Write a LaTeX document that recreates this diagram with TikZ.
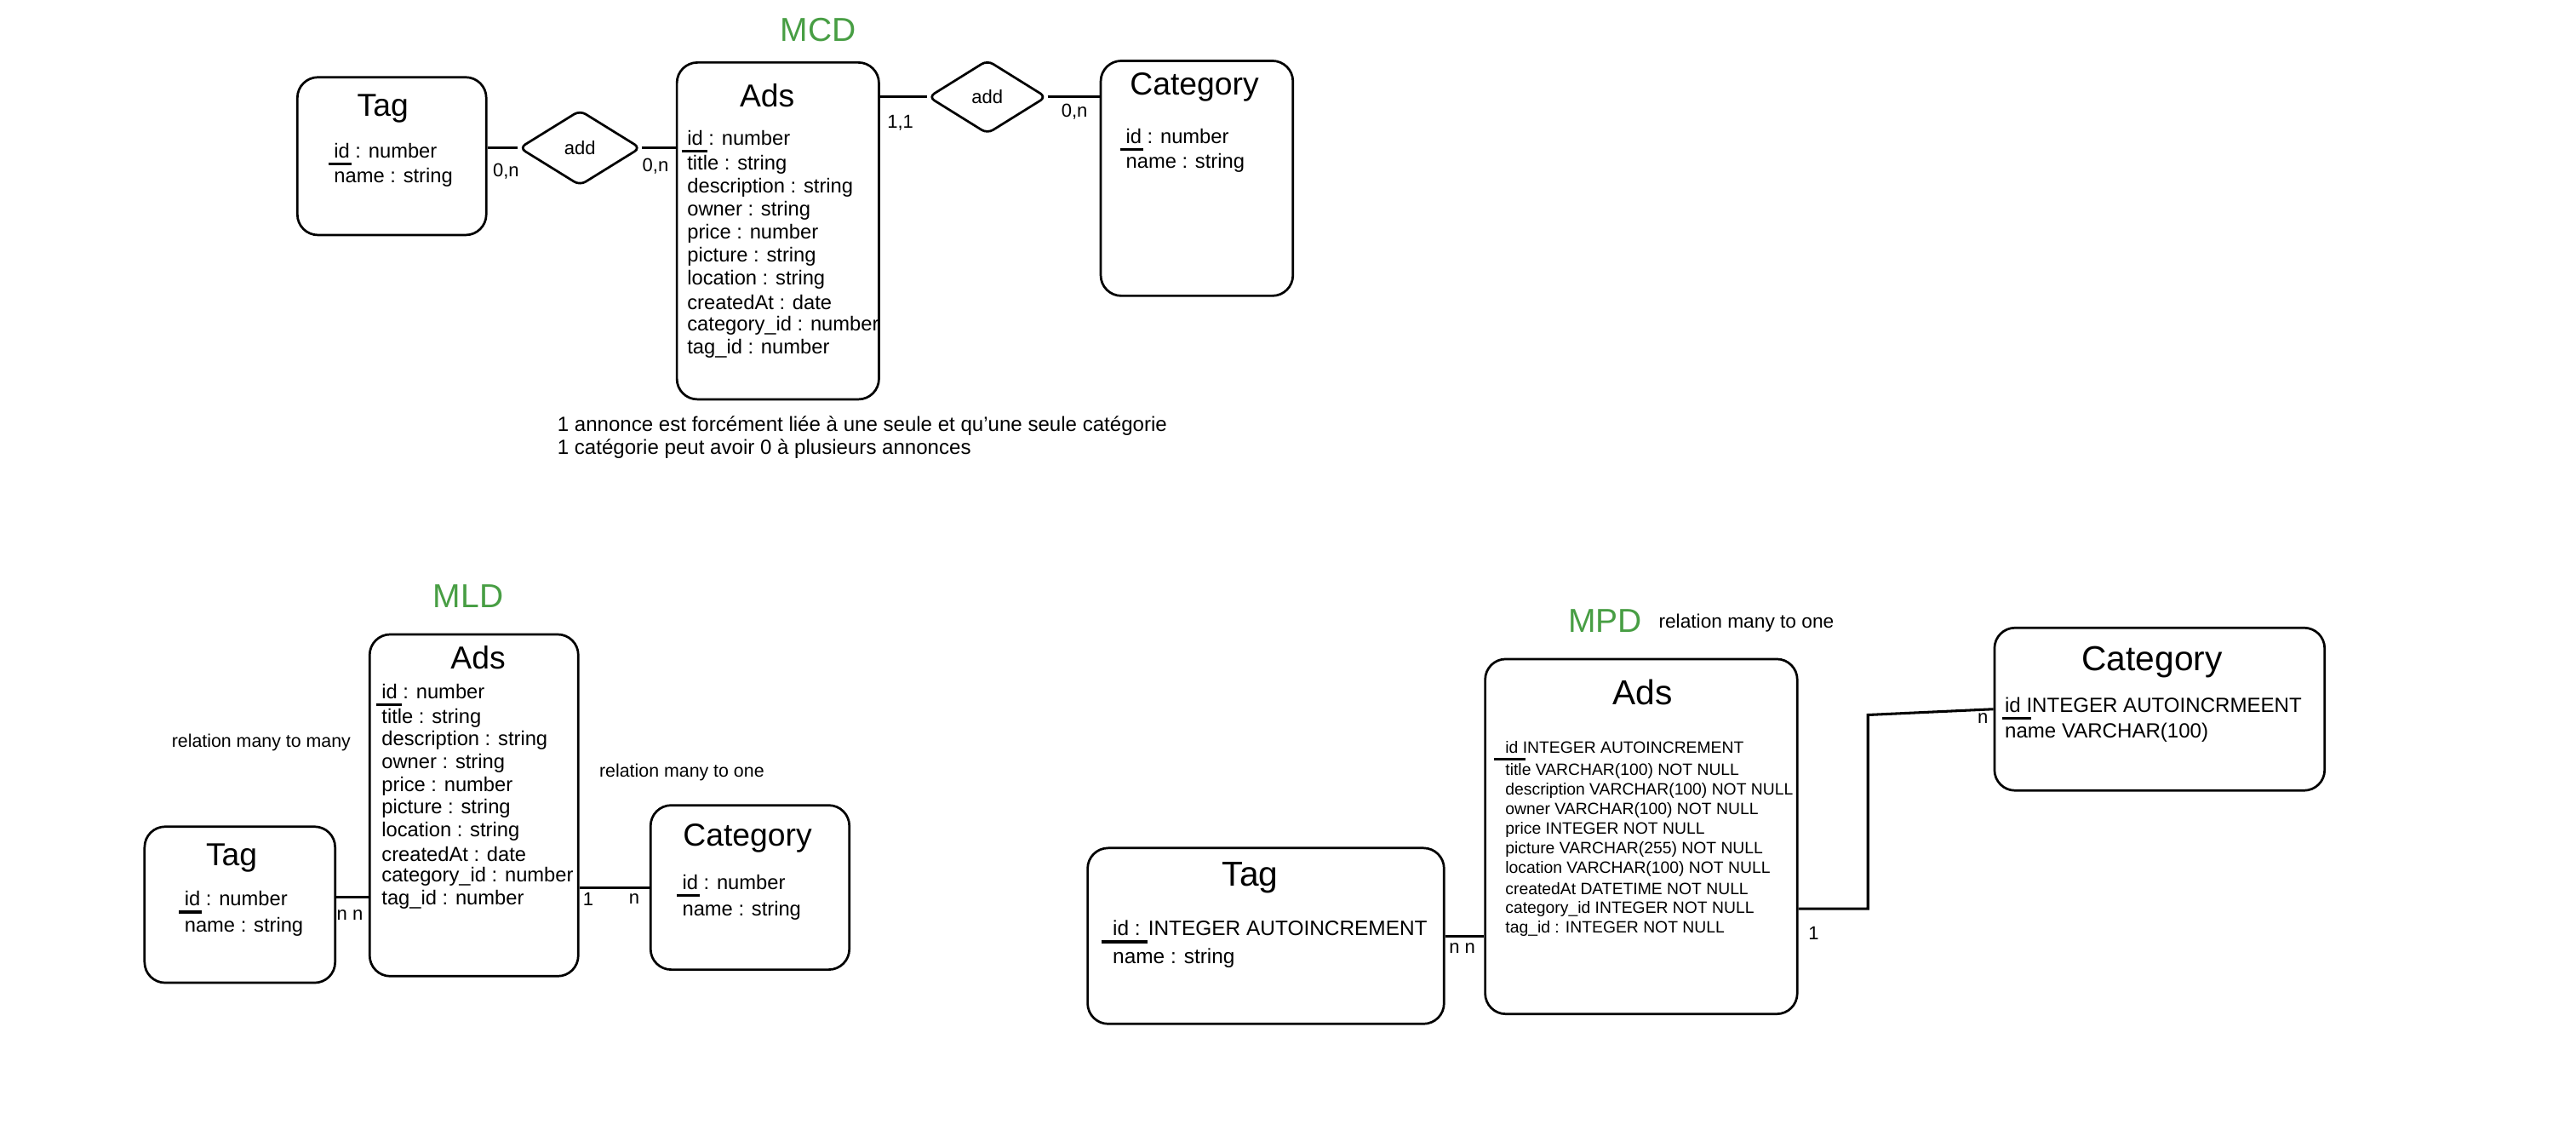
\documentclass[tikz,border=0pt]{standalone}
\usepackage{fontspec}
\setmainfont{Liberation Sans}
\usepackage{tikz}
\usetikzlibrary{shapes.geometric}
\definecolor{modelgreen}{RGB}{72,158,68}
\newcommand{\pkey}[3]{\rlap{\kern#1\rule[-2.6pt]{#2}{1pt}}#3}

\begin{document}
\begin{tikzpicture}[
    x=0.02cm, y=-0.02cm,
    entity/.style={draw, line width=0.8pt, rounded corners=0.25cm},
    relation/.style={draw, diamond, line width=0.8pt, rounded corners=0.08cm, inner sep=0, font=\fontsize{6.5}{7}\selectfont},
    link/.style={line width=0.9pt},
    boxtitle/.style={inner sep=0, font=\fontsize{11}{13}\selectfont},
    bigtitle/.style={inner sep=0, font=\fontsize{12}{14}\selectfont},
    model/.style={inner sep=0, font=\fontsize{11.5}{13}\selectfont, text=modelgreen},
    attr/.style={anchor=west, inner sep=0, font=\fontsize{7}{8}\selectfont},
    sqlattr/.style={anchor=west, inner sep=0, font=\fontsize{5.7}{7}\selectfont},
    card/.style={inner sep=0, font=\fontsize{6.5}{7}\selectfont},
    note/.style={inner sep=0, font=\fontsize{6.3}{7}\selectfont},
    handnote/.style={anchor=west, inner sep=0, font=\fontsize{7.1}{8}\selectfont},
]
    \useasboundingbox (0,0) rectangle (1568,691);

    % MCD
    \node[model] (mcd) at (498,18) {MCD};
    \node[entity, minimum width=2.30cm, minimum height=1.92cm] (tagA) at (238.5,95) {};
    \node[entity, minimum width=2.46cm, minimum height=4.10cm] (adsA) at (473.5,140.5) {};
    \node[entity, minimum width=2.34cm, minimum height=2.86cm] (catA) at (728.5,108.5) {};
    \node[relation, minimum width=1.48cm, minimum height=0.92cm] (addA) at (353,90) {add};
    \node[relation, minimum width=1.44cm, minimum height=0.90cm] (addB) at (601,59) {add};
    \node[boxtitle] (tagAtitle) at (233,66) {Tag};
    \node[boxtitle] (adsAtitle) at (467,58) {Ads};
    \node[boxtitle] (catAtitle) at (727,53) {Category};
    \foreach \txt [count=\i] in {{\pkey{-2pt}{8pt}{id} : number}, name : string}
      \node[attr] (tagA-\i) at (203,{94+14*(\i-1)}) {\txt};
    \foreach \txt [count=\i] in {{\pkey{-2pt}{8pt}{id} : number}, name : string}
      \node[attr] (catA-\i) at (685,{85+14*(\i-1)}) {\txt};
    \foreach \txt [count=\i] in {{\pkey{-2pt}{9pt}{id} : number}, title : string, description : string,
        owner : string, price : number, picture : string, location : string,
        createdAt : date, category\_id : number, tag\_id : number}
      \node[attr] (adsA-\i) at (418,{86+14*(\i-1)}) {\txt};
    \draw[link] (addA.west) -- (addA.west -| tagA.east);
    \draw[link] (addA.east) -- (addA.east -| adsA.west);
    \draw[link] (addB.west) -- (addB.west -| adsA.east);
    \draw[link] (addB.east) -- (addB.east -| catA.west);
    \node[card] (cardA1) at (308,104) {0,n};
    \node[card] (cardA2) at (399,101) {0,n};
    \node[card] (cardA3) at (548,75) {1,1};
    \node[card] (cardA4) at (654,68) {0,n};
    \node[handnote] (noteA1) at (339,259) {1 annonce est forcément liée à une seule et qu'une seule catégorie};
    \node[handnote] (noteA2) at (339,273) {1 catégorie peut avoir 0 à plusieurs annonces};

    % MLD
    \node[model] (mld) at (285,363) {MLD};
    \node[entity, minimum width=2.32cm, minimum height=1.90cm] (tagB) at (146,550.5) {};
    \node[entity, minimum width=2.54cm, minimum height=4.16cm] (adsB) at (288.5,490) {};
    \node[entity, minimum width=2.42cm, minimum height=2.00cm] (catB) at (456.5,540) {};
    \node[boxtitle] (tagBtitle) at (141,522) {Tag};
    \node[boxtitle] (adsBtitle) at (291,400) {Ads};
    \node[boxtitle] (catBtitle) at (455,510) {Category};
    \foreach \txt [count=\i] in {{\pkey{-2pt}{8pt}{id} : number}, name : string}
      \node[attr] (tagB-\i) at (112,{549+15*(\i-1)}) {\txt};
    \foreach \txt [count=\i] in {{\pkey{-2pt}{8pt}{id} : number}, name : string}
      \node[attr] (catB-\i) at (415,{539+15*(\i-1)}) {\txt};
    \foreach \txt [count=\i] in {{\pkey{-2pt}{9pt}{id} : number}, title : string, description : string,
        owner : string, price : number, picture : string, location : string,
        createdAt : date, category\_id : number, tag\_id : number}
      \node[attr] (adsB-\i) at (232,{423+13.8*(\i-1)}) {\txt};
    \draw[link] ([yshift=0.09cm]tagB.east) -- ([yshift=0.09cm]tagB.east -| adsB.west);
    \draw[link] (catB.west) -- (catB.west -| adsB.east);
    \node[card] (cardB1) at (213,557) {n n};
    \node[card] (cardB2) at (358,547) {1};
    \node[card] (cardB3) at (386,547) {n};
    \node[note] (relB1) at (159,452) {relation many to many};
    \node[note] (relB2) at (415,470) {relation many to one};

    % MPD
    \node[model] (mpd) at (977,378) {MPD};
    \node[note, font=\fontsize{6.7}{8}\selectfont] (relC) at (1063,379) {relation many to one};
    \node[entity, minimum width=4.34cm, minimum height=2.14cm] (tagC) at (770.5,569.5) {};
    \node[entity, minimum width=3.80cm, minimum height=4.32cm] (adsC) at (999,509) {};
    \node[entity, minimum width=4.02cm, minimum height=1.98cm] (catC) at (1314.5,431.5) {};
    \node[bigtitle] (tagCtitle) at (761,534) {Tag};
    \node[bigtitle] (adsCtitle) at (1000,421) {Ads};
    \node[bigtitle] (catCtitle) at (1310,403) {Category};
    \foreach \txt [count=\i] in {{\pkey{-4pt}{16pt}{id} : INTEGER AUTOINCREMENT}, name : string}
      \node[attr, font=\fontsize{7.2}{8}\selectfont] (tagC-\i) at (677,{567+16*(\i-1)}) {\txt};
    \foreach \txt [count=\i] in {{\pkey{-1pt}{10pt}{id} INTEGER AUTOINCRMEENT}, name VARCHAR(100)}
      \node[attr, font=\fontsize{7.1}{8}\selectfont] (catC-\i) at (1220,{431+15*(\i-1)}) {\txt};
    \foreach \txt [count=\i] in {{\pkey{-4pt}{11pt}{id} INTEGER AUTOINCREMENT}, title VARCHAR(100) NOT NULL,
        description VARCHAR(100) NOT NULL, owner VARCHAR(100) NOT NULL, price INTEGER NOT NULL,
        picture VARCHAR(255) NOT NULL, location VARCHAR(100) NOT NULL, createdAt DATETIME NOT NULL,
        category\_id INTEGER NOT NULL, tag\_id : INTEGER NOT NULL}
      \node[sqlattr] (adsC-\i) at (916,{457+12*(\i-1)}) {\txt};
    \coordinate (bendC) at (1137,435);
    \draw[link] (tagC.east) -- (tagC.east -| adsC.west);
    \draw[link] ([yshift=-0.88cm]adsC.east) -| (bendC) -- (catC.west);
    \node[card] (cardC1) at (890,577) {n n};
    \node[card] (cardC2) at (1104,568) {1};
    \node[card] (cardC3) at (1207,437) {n};
\end{tikzpicture}
\end{document}
